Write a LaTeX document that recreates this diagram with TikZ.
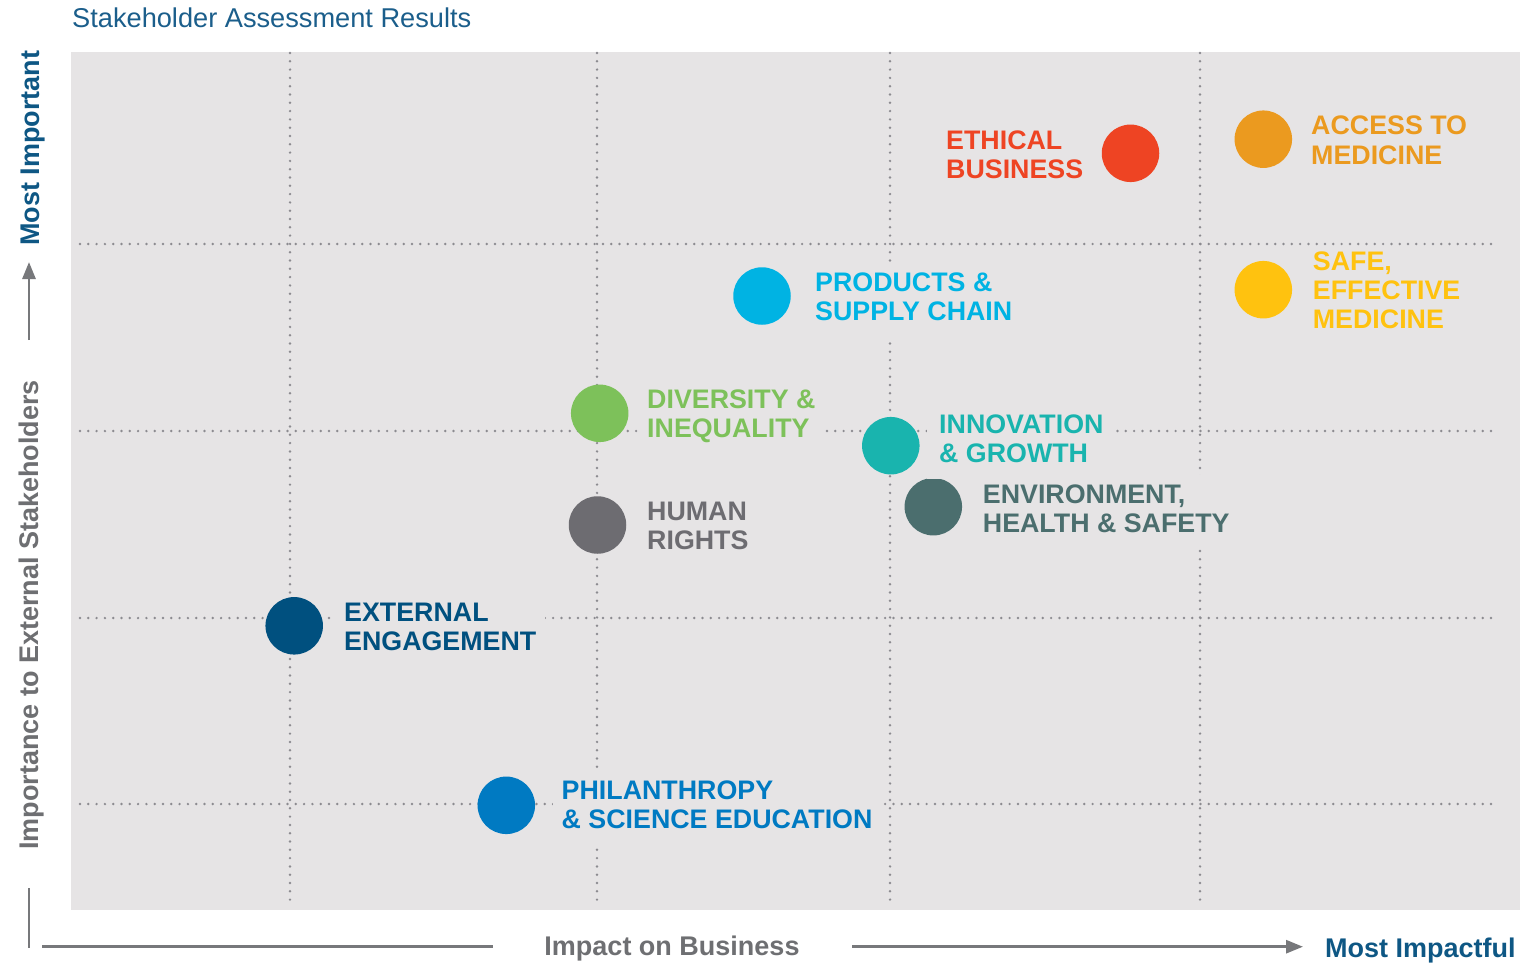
\documentclass[tikz,border=0pt]{standalone}
\usepackage{fontspec}
\setmainfont{Liberation Sans}
\usetikzlibrary{arrows.meta}
\definecolor{bgc}{HTML}{E6E4E5}
\definecolor{gridc}{HTML}{8C8B90}
\definecolor{titlec}{HTML}{1B5E8B}
\definecolor{mostc}{HTML}{0E5784}
\definecolor{axgray}{HTML}{6E6F72}
\definecolor{arrgray}{HTML}{77787B}
\definecolor{redc}{HTML}{EE4423}
\definecolor{orangec}{HTML}{EB9A1F}
\definecolor{yellowc}{HTML}{FFC20F}
\definecolor{cyanc}{HTML}{00B3E3}
\definecolor{greenc}{HTML}{7DC15A}
\definecolor{tealc}{HTML}{19B4AE}
\definecolor{envc}{HTML}{4B6E6E}
\definecolor{humanc}{HTML}{6D6C71}
\definecolor{extc}{HTML}{00507F}
\definecolor{philc}{HTML}{007AC2}
\newcommand\stk[1]{\begin{tabular}[t]{@{}l@{}}#1\end{tabular}}
\begin{document}
\begin{tikzpicture}[x=1pt,y=-1pt,
  gridl/.style={draw=gridc, line width=2.7pt, line cap=round, dash pattern=on 0pt off 8.3pt},
  bub/.style={circle, minimum size=57.5pt, inner sep=0pt, fill=#1},
  lbl/.style={font=\fontsize{26.8}{29}\selectfont\bfseries, anchor=base west, fill=bgc, inner xsep=9pt, inner ysep=8pt, xshift=-9pt},
  axfont/.style={font=\fontsize{27}{30}\selectfont\bfseries, inner sep=0pt},
  axline/.style={draw=arrgray, line width=2.8pt},
  axarrow/.style={axline, -{Triangle[length=17pt,width=13pt]}}
]
\useasboundingbox (0,0) rectangle (1538,963);
\fill[bgc] (71,52) rectangle (1520,910);
% grid
\foreach \x in {290,597,890,1200} \draw[gridl] (\x,53) -- (\x,903);
\foreach \y in {244,431,618,804} \draw[gridl] (80,\y) -- (1493,\y);
% bubbles
\node[bub=redc] (c-eth) at (1130.5,153.3) {};
\node[bub=orangec] (c-acc) at (1263.3,139.2) {};
\node[bub=yellowc] (c-safe) at (1263.3,289.7) {};
\node[bub=cyanc] (c-prod) at (762,296) {};
\node[bub=greenc] (c-div) at (599.7,413.3) {};
\node[bub=tealc] (c-inn) at (890.8,445.7) {};
\node[bub=envc] (c-env) at (933.3,506.7) {};
\node[bub=humanc] (c-hum) at (597.5,525) {};
\node[bub=extc] (c-ext) at (294.2,625.8) {};
\node[bub=philc] (c-phil) at (506.3,805.3) {};
% labels
\node[lbl, text=redc] (l-eth) at (946,149) {\stk{ETHICAL\\BUSINESS}};
\node[lbl, text=orangec] (l-acc) at (1311,135) {\stk{ACCESS TO\\MEDICINE}};
\node[lbl, text=yellowc, inner ysep=2pt] (l-safe) at (1312.7,270) {\stk{SAFE,\\EFFECTIVE\\MEDICINE}};
\node[lbl, text=cyanc] (l-prod) at (815,291) {\stk{PRODUCTS \&\\SUPPLY CHAIN}};
\node[lbl, text=greenc] (l-div) at (647,408) {\stk{DIVERSITY \&\\INEQUALITY}};
\node[lbl, text=tealc, inner xsep=12pt, xshift=-3pt] (l-inn) at (939,433) {\stk{INNOVATION\\\& GROWTH}};
\node[lbl, text=envc] (l-env) at (982.7,503) {\stk{ENVIRONMENT,\\HEALTH \& SAFETY}};
\node[lbl, text=humanc] (l-hum) at (647,520) {\stk{HUMAN\\RIGHTS}};
\node[lbl, text=extc] (l-ext) at (344,621) {\stk{EXTERNAL\\ENGAGEMENT}};
\node[lbl, text=philc] (l-phil) at (561.5,799) {\stk{PHILANTHROPY\\\& SCIENCE EDUCATION}};
% title
\node[anchor=base west, inner sep=0pt, font=\fontsize{27.2}{30}\selectfont, text=titlec] (title) at (72,28) {Stakeholder Assessment Results};
% y axis
\node[axfont, rotate=90, anchor=base west, text=axgray] (ylab) at (38,850) {Importance to External Stakeholders};
\node[axfont, rotate=90, anchor=base west, text=mostc] (ymost) at (39.3,246) {Most Important};
\coordinate (ya1) at (29,340);
\coordinate (ya2) at (29,262);
\draw[axarrow] (ya1) -- (ya2);
\coordinate (vb1) at (29,888);
\coordinate (vb2) at (29,947.5);
\draw[axline] (vb1) -- (vb2);
% x axis
\coordinate (hb1) at (42,946.7);
\coordinate (hb2) at (493,946.7);
\draw[axline] (hb1) -- (hb2);
\node[axfont, anchor=base, text=axgray] (xlab) at (672,955) {Impact on Business};
\coordinate (ha1) at (852,946.7);
\coordinate (ha2) at (1303,946.7);
\draw[axarrow] (ha1) -- (ha2);
\node[axfont, anchor=base west, text=mostc] (xmost) at (1325,957) {Most Impactful};
\end{tikzpicture}
\end{document}
